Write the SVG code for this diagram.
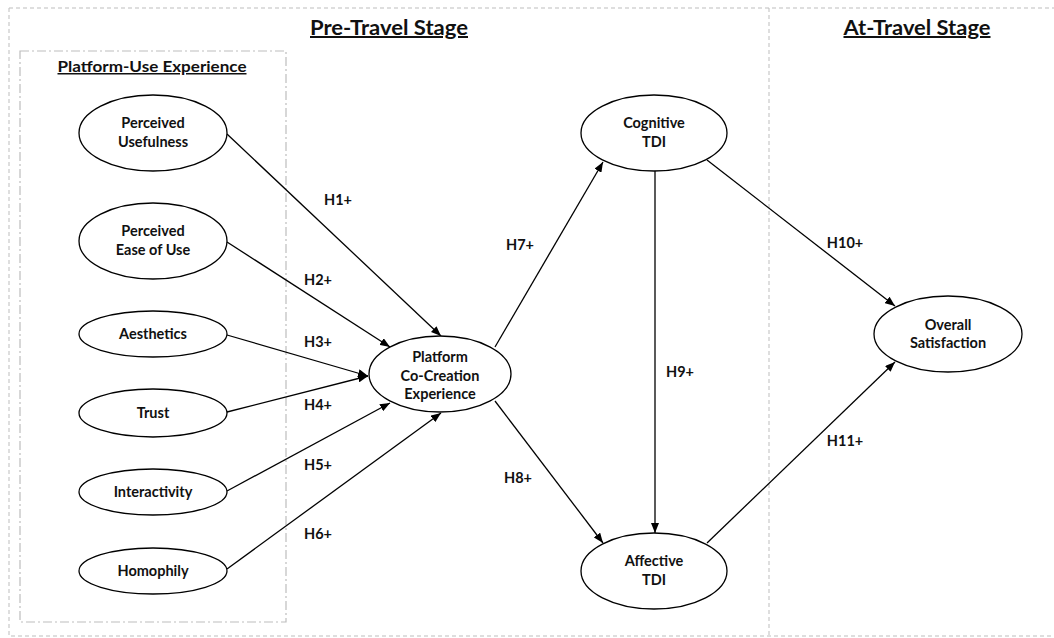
<svg xmlns="http://www.w3.org/2000/svg" width="1054" height="638" viewBox="0 0 1054 638">
  <defs>
    <style>
      .frame { fill: none; stroke: #bdbdbd; stroke-width: 1; stroke-dasharray: 4 3; }
      .inner { fill: none; stroke: #bdbdbd; stroke-width: 1.2; stroke-dasharray: 9 3 2 3; }
      .node ellipse { fill: #ffffff; stroke: #000000; stroke-width: 1.3; }
      .node text { font-family: Lato, "Liberation Sans", sans-serif; font-weight: 700; font-size: 14.5px; text-anchor: middle; fill: #111111; }
      .edge { stroke: #000000; stroke-width: 1.3; fill: none; marker-end: url(#arrow); }
      .lbl { font-family: Lato, "Liberation Sans", sans-serif; font-weight: 700; font-size: 14.5px; fill: #111111; text-anchor: middle; }
      .title { font-family: Lato, "Liberation Sans", sans-serif; font-weight: 700; font-size: 20px; fill: #111111; text-anchor: middle; text-decoration: underline; }
      .subtitle { font-family: Lato, "Liberation Sans", sans-serif; font-weight: 700; font-size: 15px; fill: #111111; text-anchor: middle; text-decoration: underline; }
    </style>
    <marker id="arrow" viewBox="0 0 10 8" refX="10" refY="4" markerWidth="10" markerHeight="8" markerUnits="userSpaceOnUse" orient="auto">
      <path d="M0,0 L10,4 L0,8 z" fill="#000000"/>
    </marker>
  </defs>
  <rect width="1054" height="638" fill="#ffffff"/>

  <g id="frames">
    <path class="frame" d="M9,8 H1054 M9,8 V636 H1054 M769,8 V638"/>
    <rect class="inner" x="20" y="51" width="266" height="571"/>
    <text class="title" x="389" y="35" textLength="158" lengthAdjust="spacingAndGlyphs">Pre-Travel Stage</text>
    <text class="title" x="917" y="35" textLength="147" lengthAdjust="spacingAndGlyphs">At-Travel Stage</text>
    <text class="subtitle" x="152" y="72" textLength="189" lengthAdjust="spacingAndGlyphs">Platform-Use Experience</text>
  </g>

  <g id="connectors">
    <line class="edge" x1="227" y1="134" x2="441" y2="336"/>
    <line class="edge" x1="227" y1="242" x2="390" y2="347"/>
    <line class="edge" x1="227" y1="335" x2="368" y2="376"/>
    <line class="edge" x1="227" y1="412" x2="368" y2="376"/>
    <line class="edge" x1="227" y1="491" x2="390" y2="403"/>
    <line class="edge" x1="227" y1="569" x2="441" y2="413"/>
    <line class="edge" x1="495" y1="347" x2="603" y2="162"/>
    <line class="edge" x1="495" y1="401" x2="603" y2="543"/>
    <line class="edge" x1="655" y1="171" x2="655" y2="533"/>
    <line class="edge" x1="707" y1="160" x2="895" y2="306"/>
    <line class="edge" x1="707" y1="543" x2="895" y2="362"/>
    <text class="lbl" x="338" y="205">H1+</text>
    <text class="lbl" x="318" y="285">H2+</text>
    <text class="lbl" x="318" y="347">H3+</text>
    <text class="lbl" x="318" y="410">H4+</text>
    <text class="lbl" x="318" y="470">H5+</text>
    <text class="lbl" x="318" y="539">H6+</text>
    <text class="lbl" x="520" y="250">H7+</text>
    <text class="lbl" x="518" y="483">H8+</text>
    <text class="lbl" x="680" y="377">H9+</text>
    <text class="lbl" x="845" y="248">H10+</text>
    <text class="lbl" x="845" y="446">H11+</text>
  </g>

  <g id="n-usefulness" class="node">
    <ellipse cx="153" cy="133" rx="74" ry="38"/>
    <text x="153" y="128">Perceived</text>
    <text x="153" y="147">Usefulness</text>
  </g>
  <g id="n-ease" class="node">
    <ellipse cx="153" cy="241" rx="74" ry="38"/>
    <text x="153" y="236">Perceived</text>
    <text x="153" y="255">Ease of Use</text>
  </g>
  <g id="n-aesthetics" class="node">
    <ellipse cx="153" cy="334" rx="74" ry="23"/>
    <text x="153" y="339">Aesthetics</text>
  </g>
  <g id="n-trust" class="node">
    <ellipse cx="153" cy="413" rx="74" ry="24"/>
    <text x="153" y="418">Trust</text>
  </g>
  <g id="n-interactivity" class="node">
    <ellipse cx="153" cy="492" rx="74" ry="23"/>
    <text x="153" y="497">Interactivity</text>
  </g>
  <g id="n-homophily" class="node">
    <ellipse cx="153" cy="571" rx="74" ry="23"/>
    <text x="153" y="576">Homophily</text>
  </g>
  <g id="n-platform" class="node">
    <ellipse cx="440" cy="374" rx="71" ry="38"/>
    <text x="440" y="362">Platform</text>
    <text x="440" y="381">Co-Creation</text>
    <text x="440" y="399">Experience</text>
  </g>
  <g id="n-cognitive" class="node">
    <ellipse cx="654" cy="133" rx="73" ry="38"/>
    <text x="654" y="128">Cognitive</text>
    <text x="654" y="147">TDI</text>
  </g>
  <g id="n-affective" class="node">
    <ellipse cx="654" cy="571" rx="73" ry="38"/>
    <text x="654" y="566">Affective</text>
    <text x="654" y="585">TDI</text>
  </g>
  <g id="n-overall" class="node">
    <ellipse cx="948" cy="334" rx="74" ry="38"/>
    <text x="948" y="330">Overall</text>
    <text x="948" y="348">Satisfaction</text>
  </g>
</svg>
